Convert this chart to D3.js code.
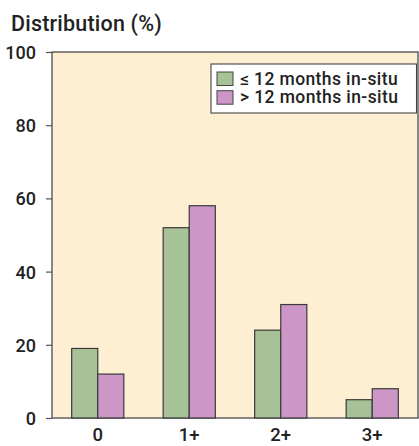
<!DOCTYPE html>
<html><head><meta charset="utf-8">
<script src="https://cdn.jsdelivr.net/npm/d3@7"></script>
<style>body{margin:0;background:#fff;}svg{display:block;font-family:Roboto,"Liberation Sans",Arial,sans-serif;}</style>
</head><body>
<svg id="c" width="419" height="446"></svg>
<script>
const categories = ["0", "1+", "2+", "3+"];
const seriesNames = ["\u2264 12 months in-situ", "> 12 months in-situ"];
const le12 = [19, 52, 24, 5];
const gt12 = [12, 58, 31, 8];
const yTicks = [0, 20, 40, 60, 80, 100];
const colors = ["#a7c297", "#cc97c6"];

const svg = d3.select("#c");
const m = {l: 52, r: 1, t: 52, b: 28};
const W = 419, H = 446;
const FF = "Roboto, Liberation Sans, Arial, sans-serif";
const x = d3.scaleBand().domain(categories).range([m.l, W - m.r]).paddingInner(0.43).paddingOuter(0.215);
const x1 = d3.scaleBand().domain([0, 1]).range([0, x.bandwidth()]);
const y = d3.scaleLinear().domain([0, 100]).range([H - m.b, m.t]);

svg.append("rect").attr("x", m.l).attr("y", m.t).attr("width", W - m.r - m.l).attr("height", H - m.b - m.t)
  .attr("fill", "#feefd3").attr("stroke", "#4a4a4a").attr("stroke-width", 1.3);

const data = categories.map((c, i) => ({c, v: [le12[i], gt12[i]]}));
const g = svg.append("g");
data.forEach(d => {
  d.v.forEach((v, j) => {
    g.append("rect").attr("x", x(d.c) + x1(j)).attr("y", y(v)).attr("width", x1.bandwidth()).attr("height", y(0) - y(v))
      .attr("fill", colors[j]).attr("stroke", "#3a3a3a").attr("stroke-width", 1.2);
  });
});

const ya = svg.append("g").attr("transform", `translate(${m.l},0)`)
  .call(d3.axisLeft(y).tickValues(yTicks).tickSize(6).tickPadding(10));
ya.select(".domain").remove();
ya.selectAll("line").attr("stroke", "#555").attr("stroke-width", 1.2);
ya.selectAll("text").attr("font-size", 18).attr("font-weight", 500).attr("fill", "#222").attr("font-family", FF).attr("dy", "0.36em");

const xa = svg.append("g").attr("transform", `translate(0,${H - m.b})`)
  .call(d3.axisBottom(x).tickSize(0).tickPadding(0));
xa.select(".domain").remove();
xa.selectAll("text").attr("font-size", 18.5).attr("font-weight", 500).attr("fill", "#222").attr("font-family", FF)
  .attr("dy", null).attr("y", 23);

svg.append("text").attr("x", 11).attr("y", 31).text("Distribution (%)")
  .attr("font-size", 21.5).attr("font-weight", 500).attr("letter-spacing", 0.2).attr("fill", "#222");

const lg = svg.append("g");
lg.append("rect").attr("x", 211).attr("y", 64).attr("width", 205.5).attr("height", 49)
  .attr("fill", "#fff").attr("stroke", "#444").attr("stroke-width", 1.1);
seriesNames.forEach((s, i) => {
  const yy = 72 + i * 18.7;
  lg.append("rect").attr("x", 217).attr("y", yy).attr("width", 16).attr("height", 13.5)
    .attr("fill", colors[i]).attr("stroke", "#444").attr("stroke-width", 1);
  lg.append("text").attr("x", 240).attr("y", yy + 12.5).text(s)
    .attr("font-size", 17.5).attr("font-weight", 500).attr("letter-spacing", 0.4).attr("fill", "#222");
});
</script>
</body></html>
